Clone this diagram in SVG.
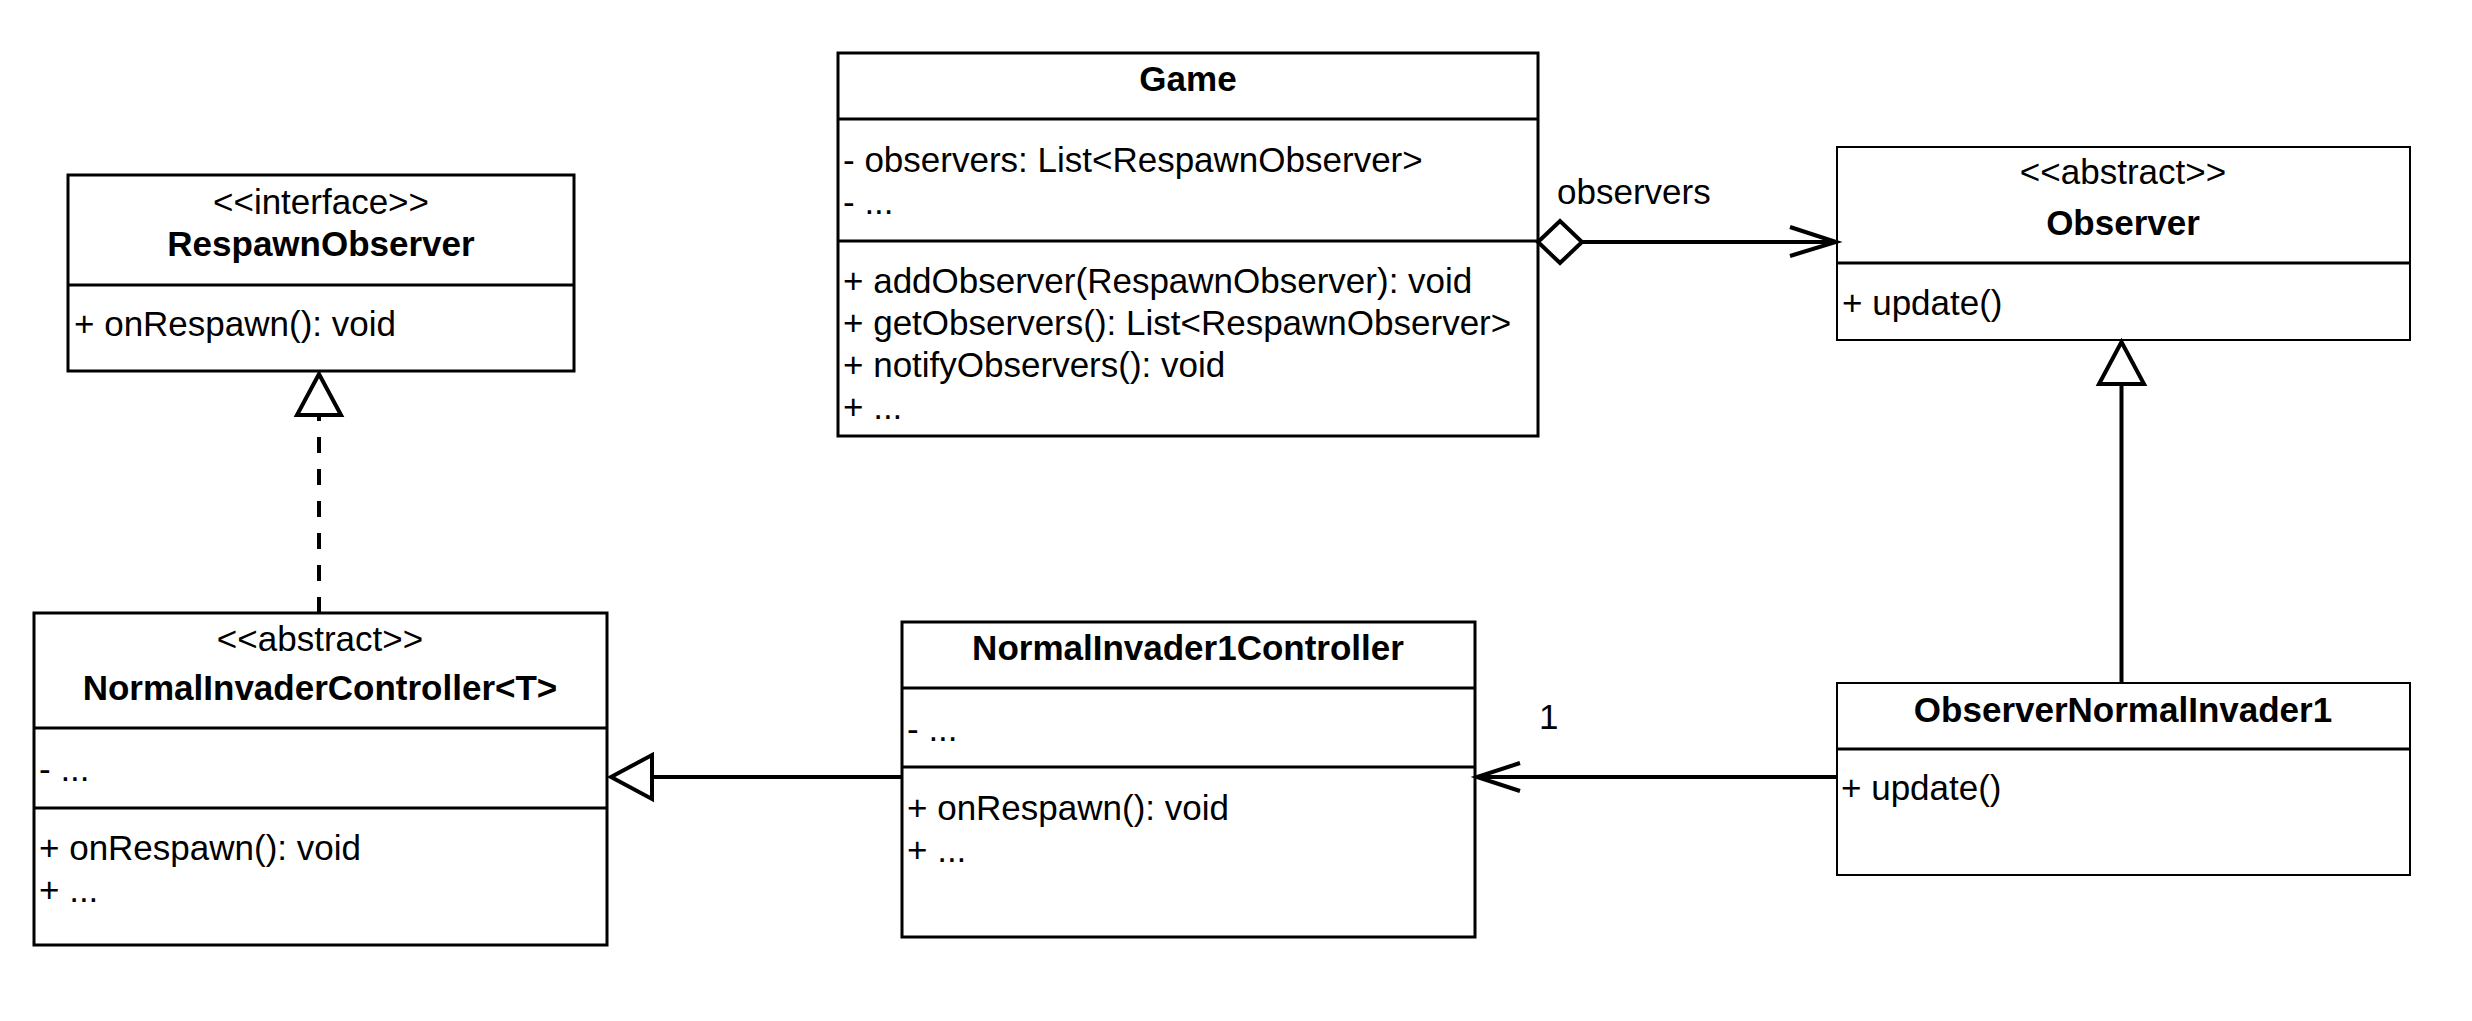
<svg xmlns="http://www.w3.org/2000/svg" width="2472" height="1021" viewBox="0 0 2472 1021">
<style>
text{font-family:"Liberation Sans",Arial,sans-serif;font-size:35px;fill:#000}
.t{font-weight:bold;text-anchor:middle}
.s{text-anchor:middle}
.box{fill:#fff;stroke:#000;stroke-width:3}
.thin{stroke-width:2}
.div{stroke:#000;stroke-width:3}
.ln{fill:none;stroke:#000;stroke-width:4}
.head{fill:#fff;stroke:#000;stroke-width:4}
</style>
<rect width="2472" height="1021" fill="#fff"/>
<g id="Game">
<rect class="box" x="838" y="53" width="700" height="383"/>
<line class="div" x1="838" y1="119" x2="1538" y2="119"/>
<line class="div" x1="838" y1="241" x2="1538" y2="241"/>
<text class="t" x="1188" y="91">Game</text>
<text x="843" y="172">- observers: List&lt;RespawnObserver&gt;</text>
<text x="843" y="214">- ...</text>
<text x="843" y="293">+ addObserver(RespawnObserver): void</text>
<text x="843" y="335">+ getObservers(): List&lt;RespawnObserver&gt;</text>
<text x="843" y="377">+ notifyObservers(): void</text>
<text x="843" y="419">+ ...</text>
</g>
<g id="Observer">
<rect class="box thin" x="1837" y="147" width="573" height="193"/>
<line class="div" x1="1837" y1="263" x2="2410" y2="263"/>
<text class="s" x="2123" y="184">&lt;&lt;abstract&gt;&gt;</text>
<text class="t" x="2123" y="235">Observer</text>
<text x="1842" y="315">+ update()</text>
</g>
<g id="RespawnObserver">
<rect class="box" x="68" y="175" width="506" height="196"/>
<line class="div" x1="68" y1="285" x2="574" y2="285"/>
<text class="s" x="321" y="214">&lt;&lt;interface&gt;&gt;</text>
<text class="t" x="321" y="256">RespawnObserver</text>
<text x="74" y="336">+ onRespawn(): void</text>
</g>
<g id="NormalInvaderController">
<rect class="box" x="34" y="613" width="573" height="332"/>
<line class="div" x1="34" y1="728" x2="607" y2="728"/>
<line class="div" x1="34" y1="808" x2="607" y2="808"/>
<text class="s" x="320" y="651">&lt;&lt;abstract&gt;&gt;</text>
<text class="t" x="320" y="700">NormalInvaderController&lt;T&gt;</text>
<text x="39" y="781">- ...</text>
<text x="39" y="860">+ onRespawn(): void</text>
<text x="39" y="902">+ ...</text>
</g>
<g id="NormalInvader1Controller">
<rect class="box" x="902" y="622" width="573" height="315"/>
<line class="div" x1="902" y1="688" x2="1475" y2="688"/>
<line class="div" x1="902" y1="767" x2="1475" y2="767"/>
<text class="t" x="1188" y="660">NormalInvader1Controller</text>
<text x="907" y="741">- ...</text>
<text x="907" y="820">+ onRespawn(): void</text>
<text x="907" y="862">+ ...</text>
</g>
<g id="ObserverNormalInvader1">
<rect class="box thin" x="1837" y="683" width="573" height="192"/>
<line class="div" x1="1837" y1="749" x2="2410" y2="749"/>
<text class="t" x="2123" y="722">ObserverNormalInvader1</text>
<text x="1841" y="800">+ update()</text>
</g>
<g id="connectors">
<line class="ln" x1="1582" y1="242" x2="1834" y2="242"/>
<polygon class="head" points="1538,242 1560,221 1582,242 1560,263"/>
<polyline class="ln" points="1790,227 1836,242 1790,256"/>
<text x="1557" y="204">observers</text>
<line class="ln" x1="2121.5" y1="683" x2="2121.5" y2="384"/>
<polygon class="head" points="2121.5,342 2099,384 2144,384"/>
<line class="ln" x1="1837" y1="777" x2="1478" y2="777"/>
<polyline class="ln" points="1520,763 1477,777 1520,791"/>
<text x="1539" y="729">1</text>
<line class="ln" x1="902" y1="777" x2="652" y2="777"/>
<polygon class="head" points="611,777 652,755 652,799"/>
<line class="ln" x1="319" y1="613" x2="319" y2="415" stroke-dasharray="16 16"/>
<polygon class="head" points="319,374 297,415 341,415"/>
</g>
</svg>
